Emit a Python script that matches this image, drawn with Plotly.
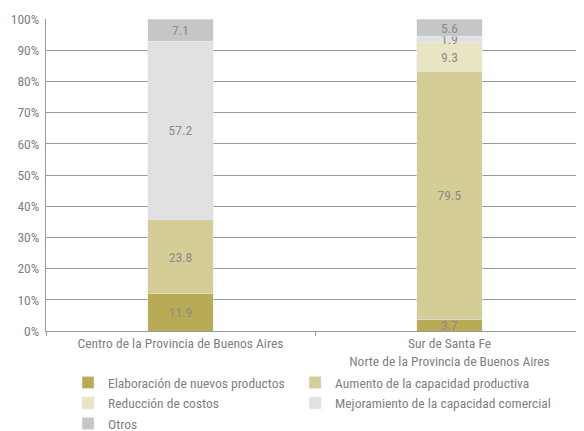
import plotly.graph_objects as go

# Datos
regiones = ["Centro de la Provincia de Buenos Aires",
            "Sur de Santa Fe<br>Norte de la Provincia de Buenos Aires"]
series = ["Elaboración de nuevos productos", "Aumento de la capacidad productiva",
          "Reducción de costos", "Mejoramiento de la capacidad comercial", "Otros"]
elaboracion = [11.9, 3.7]
aumento = [23.8, 79.5]
reduccion = [None, 9.3]
mejoramiento = [57.2, 1.9]
otros = [7.1, 5.6]

valores = [elaboracion, aumento, reduccion, mejoramiento, otros]
colores = ["#b8ab55", "#d5cd96", "#e9e4c2", "#e1e1e1", "#c6c6c6"]
# columna de la leyenda de cada serie (como en el original, dos columnas)
leyendas = ["legend", "legend2", "legend", "legend2", "legend"]

fuente = "Roboto Condensed, Liberation Sans Narrow, Roboto, sans-serif"

fig = go.Figure()
for nombre, vals, col, ley in zip(series, valores, colores, leyendas):
    fig.add_trace(go.Bar(
        x=regiones, y=vals, name=nombre, marker_color=col, legend=ley,
        text=[("" if v is None else f"{v:.1f}") for v in vals],
        textposition="inside", insidetextanchor="middle",
        textfont=dict(color="#8c8c86", size=13.5, family=fuente),
        width=0.245,
    ))

estilo_leyenda = dict(orientation="v", xref="paper", yref="container",
                      xanchor="left", y=0.151, yanchor="top", traceorder="normal",
                      font=dict(size=13.5, color="#7f7f7f"), itemwidth=30,
                      bgcolor="rgba(0,0,0,0)")

# la pagina tiene 8px de margen en el body: la figura es 8px mas chica
fig.update_layout(
    barmode="stack",
    width=576, height=423,
    margin=dict(l=38, r=0, t=11, b=100),
    plot_bgcolor="white", paper_bgcolor="white",
    font=dict(family=fuente, color="#7f7f7f", size=13.5),
    uniformtext=dict(minsize=13.5, mode="show"),
    legend=dict(x=0.041, **estilo_leyenda),
    legend2=dict(x=0.463, **estilo_leyenda),
    showlegend=True,
)
fig.update_yaxes(range=[0, 100], dtick=10, ticksuffix="%", showgrid=True,
                 gridcolor="#9a9a9a", gridwidth=1, showline=True, linecolor="#9a9a9a",
                 ticks="outside", ticklen=0, ticklabelstandoff=3,
                 zeroline=False, automargin=False)
fig.update_xaxes(showline=True, linecolor="#9a9a9a", ticks="outside",
                 tickson="boundaries", ticklen=4, tickcolor="#9a9a9a", automargin=False)

fig.write_html("out.html")
